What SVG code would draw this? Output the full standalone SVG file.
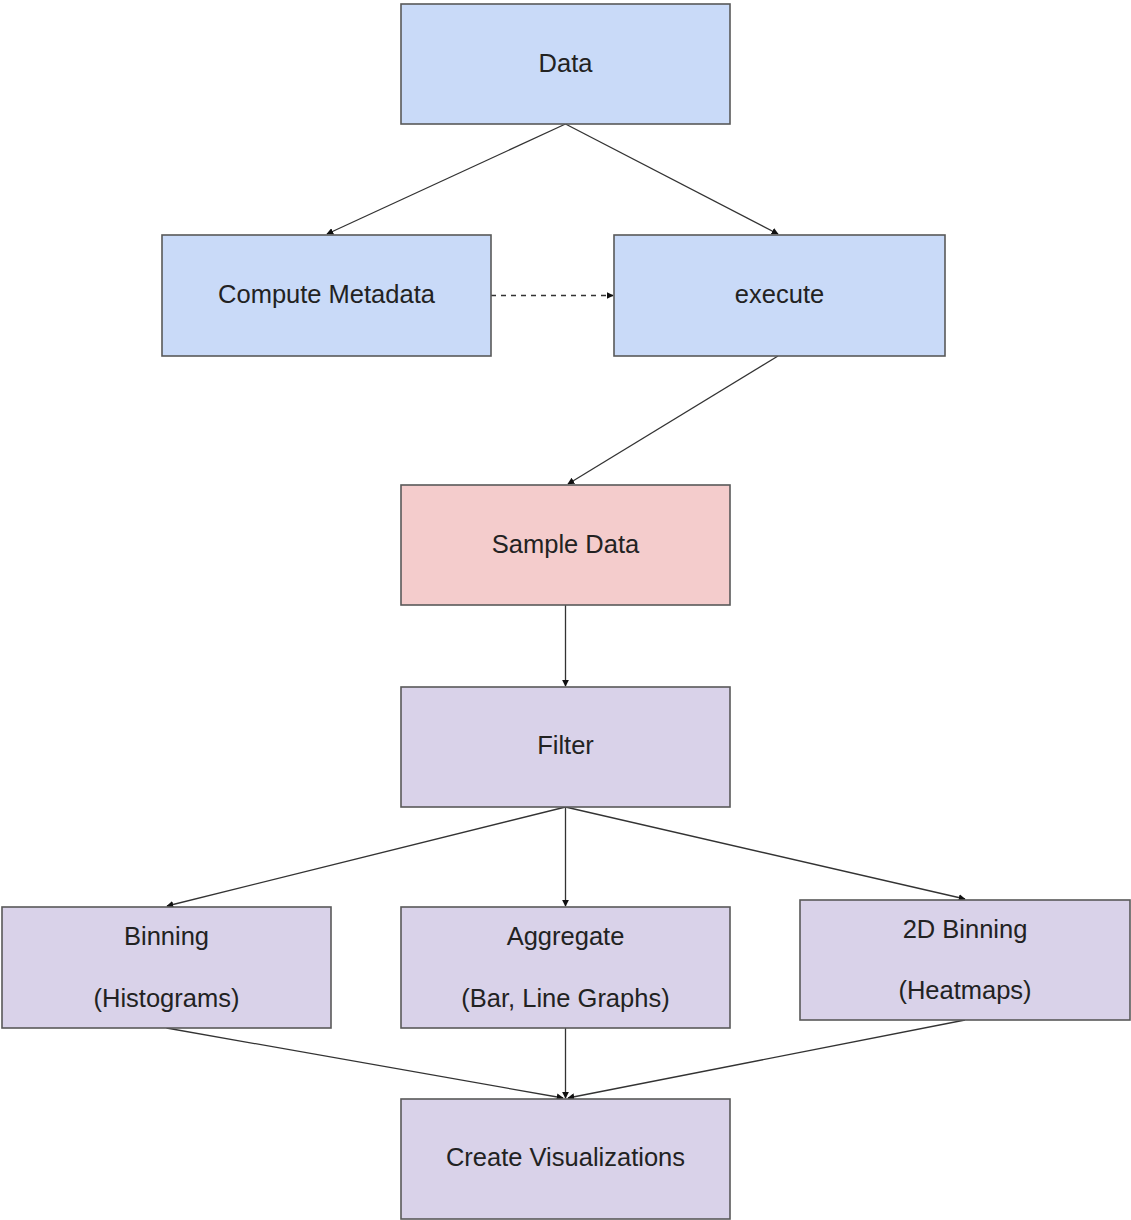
<svg xmlns="http://www.w3.org/2000/svg" width="1131" height="1220" viewBox="0 0 1131 1220">
<style>
.box{stroke:#595959;stroke-width:1.6}
.blue{fill:#c9daf8}
.red{fill:#f4cccc}
.purple{fill:#d9d2e9}
text{font-family:"Liberation Sans",Arial,sans-serif;font-size:25.5px;fill:#222;text-anchor:middle}
.conn line{stroke:#333;stroke-width:1.3;fill:none}
</style>
<defs>
<marker id="ah" viewBox="0 0 10 10" refX="9" refY="5" markerWidth="7" markerHeight="7" markerUnits="userSpaceOnUse" orient="auto">
<path d="M0,0 L10,5 L0,10 z" fill="#111"/>
</marker>
</defs>
<rect width="1131" height="1220" fill="#fff"/>
<g class="conn">
<line x1="565.5" y1="124" x2="327" y2="234" marker-end="url(#ah)"/>
<line x1="565.5" y1="124" x2="778" y2="234" marker-end="url(#ah)"/>
<line x1="491" y1="295.5" x2="613" y2="295.5" stroke-dasharray="5,5" marker-end="url(#ah)"/>
<line x1="778" y1="356" x2="568" y2="484" marker-end="url(#ah)"/>
<line x1="565.5" y1="605" x2="565.5" y2="686" marker-end="url(#ah)"/>
<line x1="565.5" y1="807" x2="167" y2="906" marker-end="url(#ah)"/>
<line x1="565.5" y1="807" x2="565.5" y2="906" marker-end="url(#ah)"/>
<line x1="565.5" y1="807" x2="965" y2="899" marker-end="url(#ah)"/>
<line x1="166.5" y1="1028" x2="563" y2="1098" marker-end="url(#ah)"/>
<line x1="565.5" y1="1028" x2="565.5" y2="1098" marker-end="url(#ah)"/>
<line x1="965" y1="1020" x2="568" y2="1098" marker-end="url(#ah)"/>
</g>
<g id="data"><rect class="box blue" x="401" y="4" width="329" height="120"/><text x="565.5" y="72">Data</text></g>
<g id="compute-metadata"><rect class="box blue" x="162" y="235" width="329" height="121"/><text x="326.5" y="303">Compute Metadata</text></g>
<g id="execute"><rect class="box blue" x="614" y="235" width="331" height="121"/><text x="779.5" y="303">execute</text></g>
<g id="sample-data"><rect class="box red" x="401" y="485" width="329" height="120"/><text x="565.5" y="553">Sample Data</text></g>
<g id="filter"><rect class="box purple" x="401" y="687" width="329" height="120"/><text x="565.5" y="754">Filter</text></g>
<g id="binning"><rect class="box purple" x="2" y="907" width="329" height="121"/><text x="166.5" y="945">Binning</text><text x="166.5" y="1007">(Histograms)</text></g>
<g id="aggregate"><rect class="box purple" x="401" y="907" width="329" height="121"/><text x="565.5" y="945">Aggregate</text><text x="565.5" y="1007">(Bar, Line Graphs)</text></g>
<g id="binning-2d"><rect class="box purple" x="800" y="900" width="330" height="120"/><text x="965" y="938">2D Binning</text><text x="965" y="999">(Heatmaps)</text></g>
<g id="create-visualizations"><rect class="box purple" x="401" y="1099" width="329" height="120"/><text x="565.5" y="1166">Create Visualizations</text></g>
</svg>
